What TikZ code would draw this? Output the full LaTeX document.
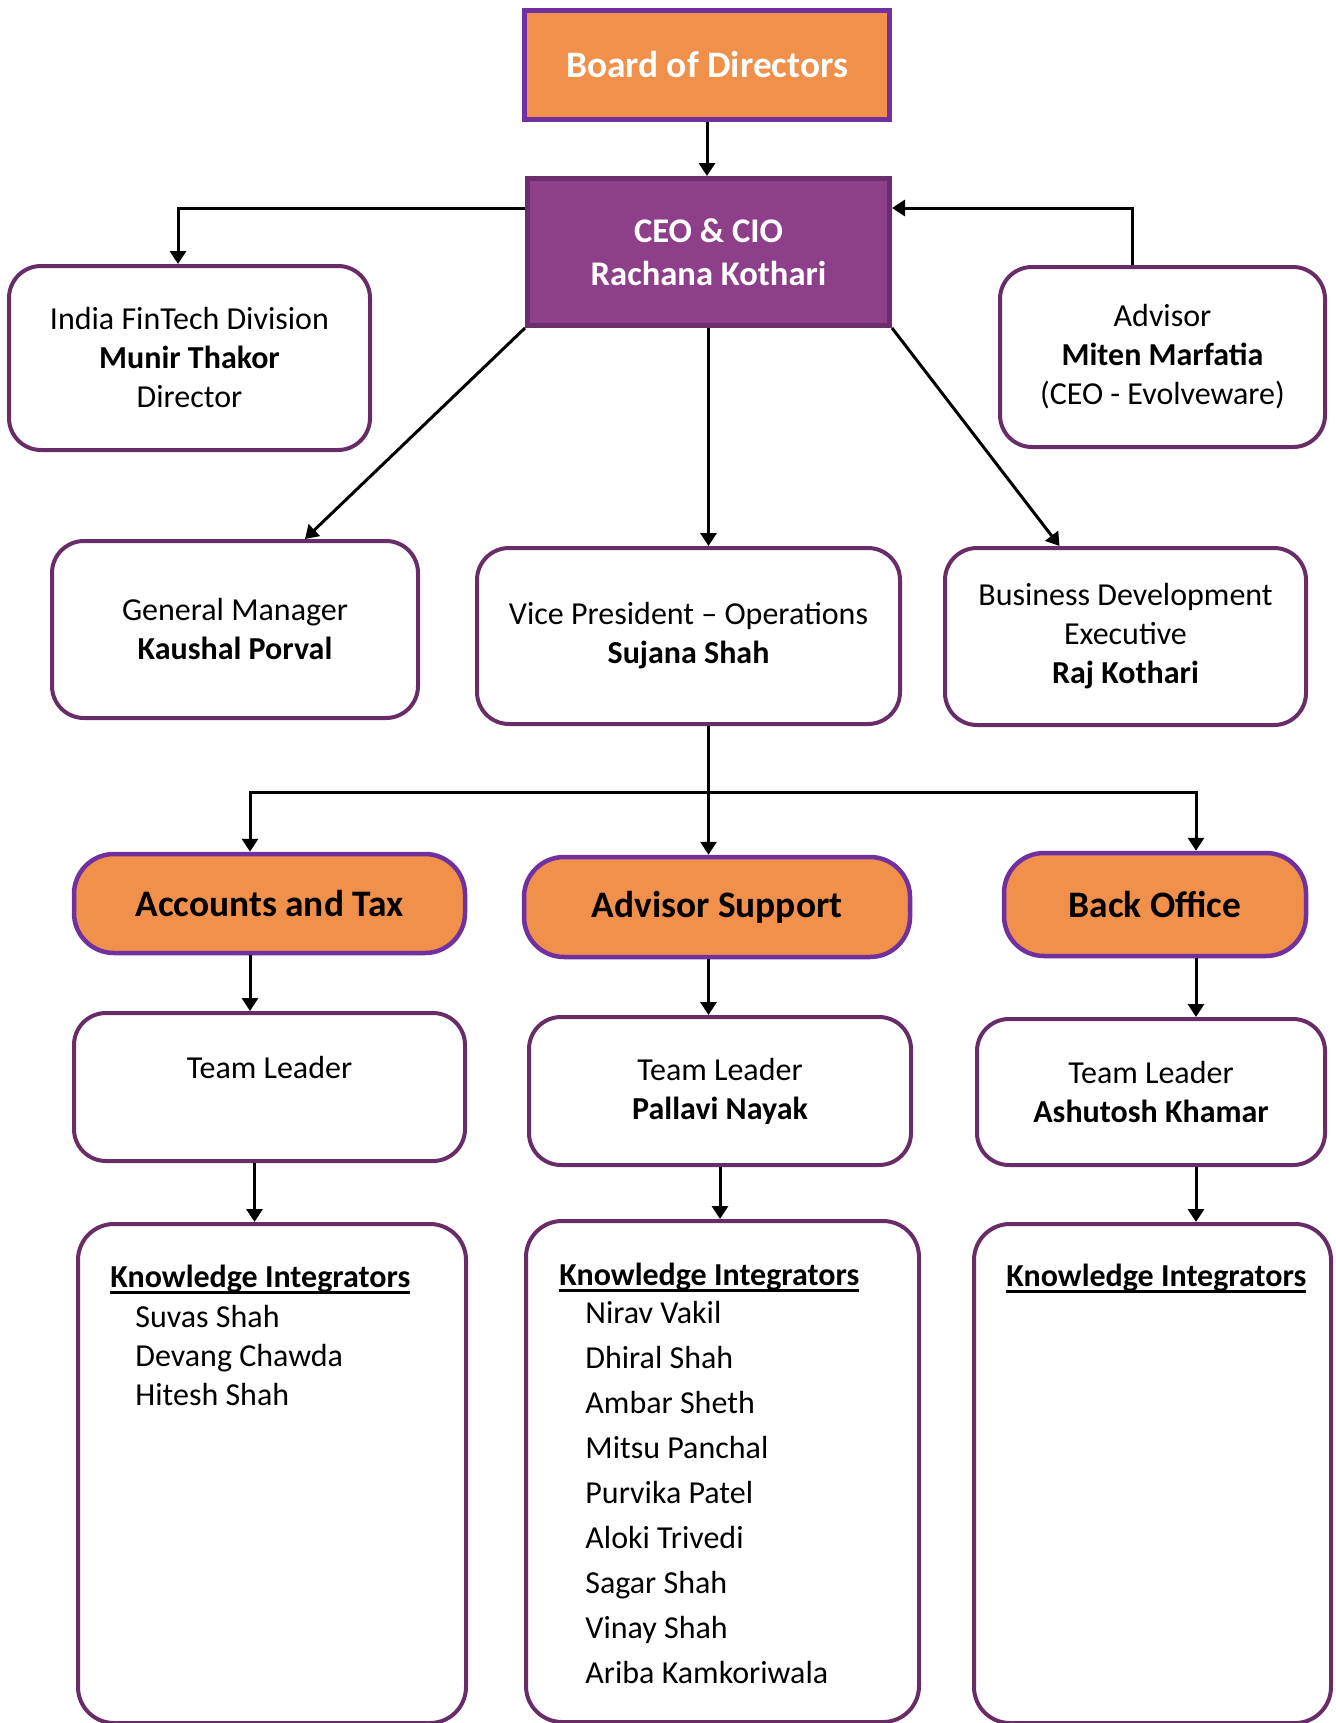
\documentclass[tikz,border=0pt]{standalone}
\usepackage{fontspec}
\setmainfont{Carlito}
\usetikzlibrary{arrows.meta}
\definecolor{boxorange}{RGB}{240,144,74}
\definecolor{boxpurple}{RGB}{112,48,160}
\definecolor{ceopurple}{RGB}{142,63,138}
\definecolor{ceoborder}{RGB}{107,45,107}
\definecolor{roundborder}{RGB}{104,45,102}
\newcommand{\ulhead}[1]{\setbox0\hbox{\bfseries #1}\rlap{\rule[-3pt]{\wd0}{1.4pt}}\box0}

\tikzset{
  topbox/.style={draw=boxpurple,fill=boxorange,line width=2.5pt,text=white,font=\fontsize{18.7}{22}\selectfont\bfseries,inner sep=0pt},
  ceobox/.style={draw=ceoborder,fill=ceopurple,line width=2.5pt,text=white,align=center,font=\fontsize{17.3}{21.5}\selectfont\bfseries,inner sep=0pt},
  personbox/.style={draw=roundborder,fill=white,line width=2pt,rounded corners=16pt,align=center,font=\fontsize{16}{19.5}\selectfont,inner sep=0pt},
  deptbox/.style={draw=boxpurple,fill=boxorange,line width=2.25pt,rounded corners=20pt,font=\fontsize{18.7}{22}\selectfont\bfseries,inner sep=0pt},
  listbox/.style={draw=roundborder,line width=2pt,rounded corners=18pt,inner sep=0pt},
  namelist/.style={anchor=north west,align=left,inner sep=0pt,font=\fontsize{16}{19.5}\selectfont},
  arr/.style={-{Triangle[length=6.5pt,width=8pt]},line width=1.5pt}
}

\begin{document}
\begin{tikzpicture}[x=0.5pt,y=-0.5pt]
        \useasboundingbox (0,0) rectangle (1335,1723);

        \coordinate (vboard) at (707,65);
        \coordinate (vceo) at (708.5,252);
        \coordinate (vindia) at (189.5,358);
        \coordinate (vadvisor) at (1162.5,357);
        \coordinate (vgm) at (235,629.5);
        \coordinate (vvp) at (688.5,636);
        \coordinate (vbd) at (1125.5,636.5);
        \coordinate (vacc) at (269.5,903.5);
        \coordinate (vadv) at (717,907);
        \coordinate (vback) at (1155,904.5);
        \coordinate (vtla) at (269.5,1087);
        \coordinate (vtlb) at (720,1091);
        \coordinate (vtlc) at (1151,1092);
        \coordinate (vkia) at (272,1473.5);
        \coordinate (vkib) at (722.5,1471.5);
        \coordinate (vkic) at (1152.5,1473.5);
        \coordinate (bus) at (708.5,792);
        \coordinate (colA) at (250,792);
        \coordinate (colC) at (1196,792);

        \node[topbox,minimum width=182.5pt,minimum height=54.5pt] (board) at (vboard) {Board of Directors};
        \node[ceobox,minimum width=181pt,minimum height=73.5pt] (ceo) at (vceo) {CEO \& CIO\\Rachana Kothari};
        \node[personbox,minimum width=180.5pt,minimum height=92pt] (india) at (vindia) {India FinTech Division\\\textbf{Munir Thakor}\\Director};
        \node[personbox,minimum width=162.5pt,minimum height=90pt] (advisor) at (vadvisor) {Advisor\\\textbf{Miten Marfatia}\\(CEO - Evolveware)};
        \node[personbox,minimum width=183pt,minimum height=88.5pt] (gm) at (vgm) {General Manager\\\textbf{Kaushal Porval}};
        \node[personbox,minimum width=211.5pt,minimum height=88pt] (vp) at (vvp) {Vice President -- Operations\\\textbf{Sujana Shah}};
        \node[personbox,minimum width=180.5pt,minimum height=88.5pt] (bd) at (vbd) {Business Development\\Executive\\\textbf{Raj Kothari}};

        \node[deptbox,minimum width=195.5pt,minimum height=49.5pt] (acc) at (vacc) {Accounts and Tax};
        \node[deptbox,minimum width=193pt,minimum height=50pt] (adv) at (vadv) {Advisor Support};
        \node[deptbox,minimum width=151pt,minimum height=51.5pt] (back) at (vback) {Back Office};

        \node[personbox,minimum width=195.5pt,minimum height=74pt] (tla) at (vtla) {Team Leader\\~};
        \node[personbox,minimum width=191pt,minimum height=74pt] (tlb) at (vtlb) {Team Leader\\\textbf{Pallavi Nayak}};
        \node[personbox,minimum width=174pt,minimum height=73pt] (tlc) at (vtlc) {Team Leader\\\textbf{Ashutosh Khamar}};

        \node[listbox,minimum width=194pt,minimum height=249.5pt] (kia) at (vkia) {};
        \node[listbox,minimum width=196.5pt,minimum height=250.5pt] (kib) at (vkib) {};
        \node[listbox,minimum width=178.5pt,minimum height=249.5pt] (kic) at (vkic) {};

        \node[namelist] (namesa) at (110,1265) {\ulhead{Knowledge Integrators}\\[0.5pt]
            \hspace*{12.5pt}Suvas Shah\\\hspace*{12.5pt}Devang Chawda\\\hspace*{12.5pt}Hitesh Shah};
        \node[namelist,font=\fontsize{16}{22.5}\selectfont] (namesb) at (559,1263) {\ulhead{Knowledge Integrators}\\[-3.5pt]
            \hspace*{13pt}Nirav Vakil\\\hspace*{13pt}Dhiral Shah\\\hspace*{13pt}Ambar Sheth\\\hspace*{13pt}Mitsu Panchal\\
            \hspace*{13pt}Purvika Patel\\\hspace*{13pt}Aloki Trivedi\\\hspace*{13pt}Sagar Shah\\\hspace*{13pt}Vinay Shah\\
            \hspace*{13pt}Ariba Kamkoriwala};
        \node[namelist] (namesc) at (1006,1264) {\ulhead{Knowledge Integrators}};

        \draw[arr] (board.south) -- (board.south |- ceo.north);
        \draw[arr] ([yshift=-16pt]ceo.north west) -| ([xshift=-5.75pt]india.north);
        \draw[arr] ([xshift=-15.25pt]advisor.north) |- ([yshift=-16pt]ceo.north east);
        \draw[arr] (ceo.south west) -- ([xshift=35pt]gm.north);
        \draw[arr] (ceo.south) -- (ceo.south |- vp.north);
        \draw[arr] (ceo.south east) -- ([xshift=-33pt]bd.north);
        \draw[arr] (bus |- vp.south) -- (bus |- adv.north);
        \draw[arr] (bus) -| (colA |- acc.north);
        \draw[arr] (bus) -| (colC |- back.north);
        \draw[arr] (colA |- acc.south) -- (colA |- tla.north);
        \draw[arr] (bus |- adv.south) -- (bus |- tlb.north);
        \draw[arr] (colC |- back.south) -- (colC |- tlc.north);
        \draw[arr] ([xshift=-7.5pt]tla.south) -- ([xshift=-7.5pt]tla.south |- kia.north);
        \draw[arr] (tlb.south) -- (tlb.south |- kib.north);
        \draw[arr] (colC |- tlc.south) -- (colC |- kic.north);
    \end{tikzpicture}
\end{document}
